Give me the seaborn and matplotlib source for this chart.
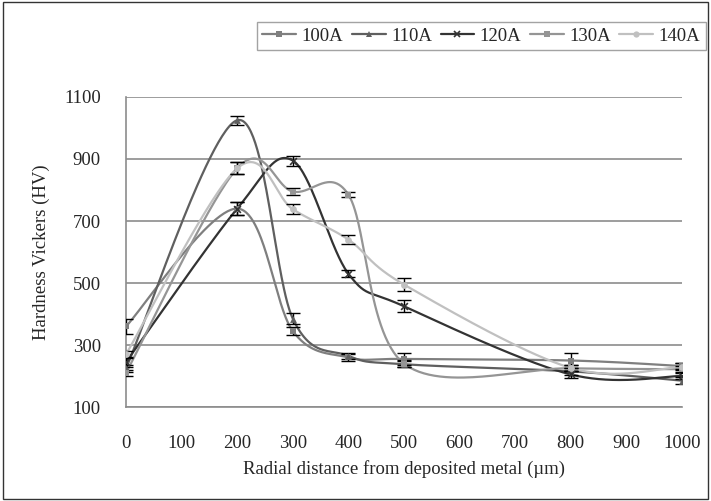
import matplotlib
matplotlib.use("Agg")
import matplotlib.pyplot as plt
import numpy as np
import pandas as pd
import seaborn as sns
from matplotlib.patches import Rectangle

# distances (um) and hardness readings (HV) per welding current
distance = [0, 200, 300, 400, 500, 800, 1000]
hv_100a = [360, 740, 345, 260, 255, 250, 232]
hv_110a = [225, 1025, 385, 265, 238, 215, 185]
hv_120a = [245, 740, 895, 530, 425, 205, 200]
hv_130a = [210, 870, 795, 785, 240, 225, 222]
hv_140a = [270, 870, 738, 640, 495, 226, 230]

err_100a = [25, 22, 12, 10, 20, 25, 10]
err_110a = [12, 14, 18, 10, 10, 12, 12]
err_120a = [15, 20, 16, 12, 20, 10, 10]
err_130a = [10, 20, 11, 8, 12, 10, 10]
err_140a = [12, 20, 17, 15, 20, 10, 12]

series = ["100A", "110A", "120A", "130A", "140A"]
values = [hv_100a, hv_110a, hv_120a, hv_130a, hv_140a]
errors = [err_100a, err_110a, err_120a, err_130a, err_140a]
colors = ["#7f7f7f", "#5f5f5f", "#333333", "#959595", "#c0c0c0"]
markers = ["s", "^", "x", "s", "o"]


def excel_smooth(x, y, n=60):
    """Bezier smoothing as done by spreadsheet 'smoothed line' charts."""
    pts = np.column_stack([x, y]).astype(float)
    out = []
    for i in range(len(pts) - 1):
        p0 = pts[i - 1] if i > 0 else pts[i]
        p1, p2 = pts[i], pts[i + 1]
        p3 = pts[i + 2] if i + 2 < len(pts) else pts[i + 1]
        c1 = p1 + (p2 - p0) / 6
        c2 = p2 - (p3 - p1) / 6
        t = np.linspace(0, 1, n)[:, None]
        seg = ((1 - t) ** 3) * p1 + 3 * ((1 - t) ** 2) * t * c1 + 3 * (1 - t) * t ** 2 * c2 + t ** 3 * p2
        out.append(seg if i == 0 else seg[1:])
    return np.vstack(out)


sns.set_theme(style="white")
plt.rcParams["font.family"] = ["Liberation Serif", "DejaVu Serif"]
plt.rcParams["font.size"] = 13.5

fig = plt.figure(figsize=(7.11, 5.01), dpi=100)
ax = fig.add_axes([0.1772, 0.1876, 0.782, 0.6188])

curves = []
for name, vals in zip(series, values):
    sm = excel_smooth(distance, vals)
    curves.append(pd.DataFrame({"x": sm[:, 0], "y": sm[:, 1], "series": name}))
curve_df = pd.concat(curves, ignore_index=True)

for name, color in zip(series, colors):
    sns.lineplot(data=curve_df[curve_df["series"] == name], x="x", y="y", sort=False,
                 estimator=None, color=color, linewidth=1.6, ax=ax, zorder=3)

handles = []
for name, vals, errs, color, mk in zip(series, values, errors, colors, markers):
    ax.errorbar(distance, vals, yerr=errs, fmt="none", ecolor="black", elinewidth=1,
                capsize=5, capthick=1, zorder=4)
    ax.scatter(distance, vals, marker=mk, s=24, color=color,
               linewidths=1.2 if mk == "x" else 0, zorder=5)
    handles.append(plt.Line2D([], [], color=color, marker=mk, markersize=4.5,
                              linewidth=1.6, markeredgewidth=1.2 if mk == "x" else 0))

ax.set_xlim(0, 1000)
ax.set_ylim(100, 1100)
ax.set_xticks(np.arange(0, 1001, 100))
ax.set_yticks(np.arange(100, 1101, 200))
ax.yaxis.grid(True, color="#8c8c8c", linewidth=1.2)
ax.set_axisbelow(True)
for side in ["top", "right"]:
    ax.spines[side].set_visible(False)
for side in ["left", "bottom"]:
    ax.spines[side].set_color("#8c8c8c")
    ax.spines[side].set_linewidth(1.2)
ax.tick_params(axis="both", which="both", direction="out", length=4, width=1,
               color="#8c8c8c", labelsize=13.5)
ax.tick_params(axis="y", pad=14)
ax.tick_params(axis="x", pad=16)
ax.set_xlabel("Radial distance from deposited metal (\u00b5m)", fontsize=13.5, labelpad=6)
ax.set_ylabel("Hardness Vickers (HV)", fontsize=13.5, labelpad=10)

leg = fig.legend(handles, series, ncol=5, loc="upper right", bbox_to_anchor=(0.993, 0.956),
                 borderaxespad=0, frameon=True, fancybox=False, fontsize=13.5,
                 handlelength=1.8, columnspacing=0.45, handletextpad=0.3, borderpad=0.3)
leg.get_frame().set_edgecolor("#8c8c8c")
leg.get_frame().set_linewidth(1.0)

fig.patches.append(Rectangle((0.004, 0.004), 0.992, 0.992, transform=fig.transFigure,
                             fill=False, edgecolor="#333333", linewidth=1.0))

fig.savefig("out.png", dpi=100)
